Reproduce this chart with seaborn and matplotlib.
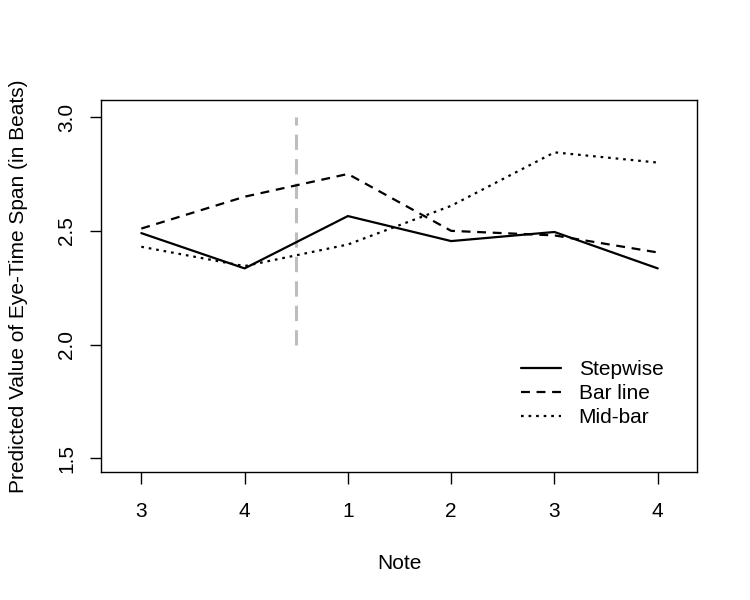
import pandas as pd
import seaborn as sns
import matplotlib.pyplot as plt

# Values
positions = [1, 2, 3, 4, 5, 6]
note_labels = ["3", "4", "1", "2", "3", "4"]
stepwise = [2.49, 2.335, 2.565, 2.455, 2.495, 2.335]
bar_line = [2.51, 2.65, 2.75, 2.50, 2.48, 2.405]
mid_bar = [2.43, 2.345, 2.44, 2.61, 2.845, 2.80]
conditions = ["Stepwise", "Bar line", "Mid-bar"]
y_ticks = [1.5, 2.0, 2.5, 3.0]

df = pd.DataFrame({
    "pos": positions * 3,
    "value": stepwise + bar_line + mid_bar,
    "Condition": [c for c in conditions for _ in positions],
})

sns.set_style("white")
plt.rcParams['font.family'] = ['Liberation Sans', 'DejaVu Sans']
plt.rcParams.update({"text.color": "black", "axes.labelcolor": "black",
                     "xtick.color": "black", "ytick.color": "black"})

fs = 15

fig = plt.figure(figsize=(7.5, 6), dpi=100)
ax = fig.add_axes([0.1347, 0.2133, 0.7946, 0.62])

sns.lineplot(data=df, x="pos", y="value", hue="Condition", style="Condition",
             palette=["black"] * 3,
             dashes={"Stepwise": "", "Bar line": (4, 3), "Mid-bar": (1.2, 2.2)},
             linewidth=1.6, ax=ax)

# gray marker between bars
ax.plot([2.5, 2.5], [2.0, 3.0], color="#bdbdbd", linewidth=2.2, dashes=(5, 3), zorder=1)

ax.set_xlim(0.61, 6.38)
ax.set_ylim(1.44, 3.075)
ax.set_xticks(positions)
ax.set_xticklabels(note_labels)
ax.set_yticks(y_ticks)
ax.set_yticklabels([f"{t:.1f}" for t in y_ticks], rotation=90, va="center")
ax.tick_params(axis="x", direction="out", length=8.5, width=1,
               labelsize=fs, pad=13, bottom=True)
ax.tick_params(axis="y", direction="out", length=8, width=1,
               labelsize=fs, pad=10, left=True)
for s in ax.spines.values():
    s.set_color("black")
    s.set_linewidth(1)

ax.set_xlabel("Note", fontsize=fs, labelpad=24)
ax.set_ylabel("Predicted Value of Eye-Time Span (in Beats)", fontsize=fs, labelpad=21)

leg = ax.legend(loc="lower right", bbox_to_anchor=(0.975, 0.07), frameon=False,
                fontsize=fs, handlelength=1.9, labelspacing=0.25, handletextpad=0.85)
for h in leg.get_lines():
    h.set_linewidth(1.6)

fig.savefig("out.png", dpi=100)
